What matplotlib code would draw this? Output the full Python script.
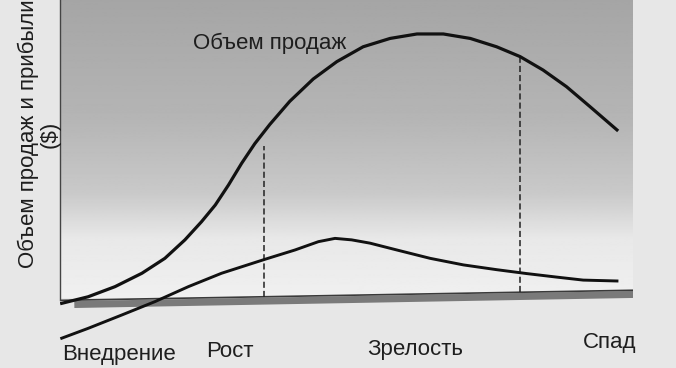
import numpy as np
import matplotlib.pyplot as plt

plt.rcParams['font.family'] = ['Liberation Sans', 'DejaVu Sans']

# sales volume curve (time 0..100, arbitrary units)
sales_x = [0.3, 4.9, 9.6, 14.3, 18.3, 21.8, 24.7, 27.1, 29.4, 31.7, 34.0, 36.6, 40.1, 44.2,
           48.3, 52.9, 57.6, 62.3, 66.9, 71.6, 76.2, 80.3, 84.3, 88.4, 92.5, 97.2]
sales_y = [-1.8, 0.4, 3.8, 8.3, 13.3, 19.5, 25.6, 31.2, 37.9, 45.2, 51.8, 58.2, 66.0, 73.5,
           79.3, 84.3, 87.1, 88.6, 88.6, 87.1, 84.3, 81.0, 76.5, 70.9, 64.2, 56.4]

# profit curve
profit_x = [0.3, 4.9, 10.8, 16.6, 22.4, 28.2, 35.8, 41.0, 45.1, 48.0, 50.9, 54.1, 58.8,
            64.6, 70.4, 76.2, 81.4, 86.7, 91.3, 97.2]
profit_y = [-13.5, -10.2, -5.7, -1.2, 3.8, 8.3, 13.0, 16.1, 18.9, 20.0, 19.5, 18.4, 16.1,
            13.3, 11.1, 9.5, 8.2, 7.0, 6.0, 5.7]

# stage boundaries (dashed)
bound_x = [35.6, 80.3]
bound_top = [51, 80.5]

stages = ['Внедрение', 'Рост', 'Зрелость', 'Спад']
stage_x = [10.3, 29.7, 62, 96]
stage_y = [-19.1, -18.1, -17.4, -14.8]

# slight tilt of the scanned baseline (left, right)
base = [-0.8, 2.6]

fig = plt.figure(figsize=(6.76, 3.68), dpi=100, facecolor='#e7e7e7')
ax = fig.add_axes([60/676, 0, 573/676, 1])
ax.set_xlim(0, 100)
ax.set_ylim(-23.5, 100)
ax.axis('off')

# grey scan tone fading downwards inside the box
yy = np.linspace(0, 105, 300)
tone = np.interp(yy, [0, 20, 35, 60, 105], [0.94, 0.91, 0.79, 0.71, 0.64])
ax.imshow(tone.reshape(-1, 1), cmap='gray', vmin=0, vmax=1, extent=(0, 100, 0, 105),
          origin='lower', aspect='auto', zorder=0)

# box with shadow
ax.plot([2.5, 100.9], [base[0] - 1.4, base[1] - 1.4], color='#7a7a7a', lw=5,
        solid_capstyle='butt', zorder=1)
ax.plot([100.9, 100.9], [base[1] - 2.6, 105], color='#878787', lw=4,
        solid_capstyle='butt', zorder=1)
ax.plot([0, 100.2], base, color='#3a3a3a', lw=1.2, zorder=2)
ax.plot([0, 0], [base[0], 105], color='#444444', lw=1, clip_on=False, zorder=2)
ax.plot([100.2, 100.2], [base[1], 105], color='#555555', lw=1, zorder=2)

for bx, bt in zip(bound_x, bound_top):
    b0 = np.interp(bx, [0, 100], base)
    ax.plot([bx, bx], [b0, bt], color='#222222', lw=1.1, ls=(0, (4, 2)), zorder=3)

ax.plot(sales_x, sales_y, color='#111111', lw=2.3, solid_joinstyle='round', zorder=4)
ax.plot(profit_x, profit_y, color='#111111', lw=2.1, solid_joinstyle='round',
        clip_on=False, zorder=4)

ax.text(36.6, 85.6, 'Объем продаж', fontsize=16, color='#1e1e1e', ha='center', va='center')

for s, sx, sy in zip(stages, stage_x, stage_y):
    ax.text(sx, sy, s, fontsize=16, color='#1e1e1e', ha='center', va='center', clip_on=False)

ax.text(-3.7, 55, 'Объем продаж и прибыли\n($)', fontsize=16, color='#1e1e1e',
        rotation=90, ha='center', va='center', multialignment='center', linespacing=1.05)

fig.savefig('out.png', dpi=100, facecolor=fig.get_facecolor())
